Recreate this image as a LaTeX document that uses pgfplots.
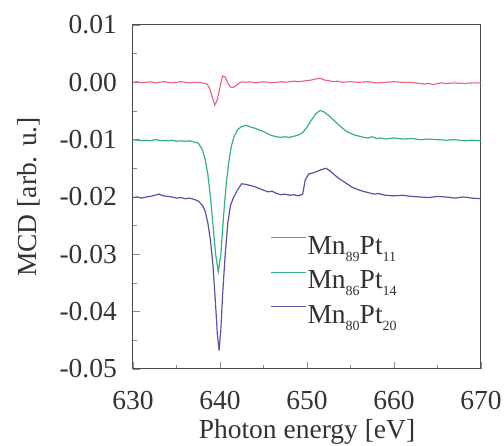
\documentclass[border=0pt]{standalone}
\usepackage{fontspec}
\setmainfont{Liberation Serif}
\usepackage{pgfplots}
\pgfplotsset{compat=1.18}

\definecolor{mcdred}{RGB}{232,96,122}
\definecolor{mcdgreen}{RGB}{50,178,130}
\definecolor{mcdblue}{RGB}{88,82,166}
\newcommand{\bigfont}{\fontsize{27.5}{32}\selectfont}
\newcommand{\sub}[1]{\raisebox{-7pt}{\fontsize{14}{14}\selectfont #1}}

\begin{document}
\begin{tikzpicture}
\begin{axis}[
    name=ax,
    scale only axis,
    width=348pt, height=344pt,
    xmin=630, xmax=670,
    ymin=-0.05, ymax=0.01,
    scaled y ticks=false,
    xtick={630,640,...,670},
    xticklabels={630,640,650,660,670},
    ytick={-0.05,-0.04,-0.03,-0.02,-0.01,0,0.01},
    yticklabels={-0.05,-0.04,-0.03,-0.02,-0.01,0.00,0.01},
    minor x tick num=1,
    minor y tick num=1,
    xtick pos=bottom, ytick pos=left,
    tick align=inside,
    major tick length=7pt, minor tick length=4pt,
    tick style={black!45, line width=0.6pt},
    axis line style={black!70, line width=1pt},
    tick label style={font=\bigfont, text=black!80, inner sep=1pt},
    yticklabel style={xshift=-15pt},
    xticklabel style={yshift=-21pt},
    label style={font=\bigfont, text=black!80, inner sep=0pt},
    xlabel={Photon energy [eV]},
    ylabel={MCD [arb. u.]},
    xlabel style={at={(axis description cs:0.5,-0.203)}, anchor=base},
    ylabel style={at={(axis description cs:-0.276,0.5)}, anchor=base},
    legend style={draw=none, fill=none, at={(0.394,0.39)}, anchor=north west,
        inner sep=0pt, font=\bigfont, text=black!80, row sep=13pt,
        nodes={inner sep=1pt}},
    legend cell align=left,
    legend image code/.code={\draw[#1] (0pt,8pt) -- (35pt,8pt);},
]

% Mn89Pt11
\addplot[color=mcdred, line width=1.1pt] coordinates {
(630,0.0000) (630.5,0.0001) (631,-0.0001) (631.5,0.0000) (632,0.0001)
(632.5,-0.0001) (633,0.0000) (633.5,0.0001) (634,0.0000) (634.5,-0.0001)
(635,0.0000) (635.5,0.0001) (636,0.0000) (636.5,-0.0001) (637,0.0000)
(637.5,0.0000) (638,-0.0001) (638.5,-0.0003) (638.8,-0.0010) (639.1,-0.0025)
(639.4,-0.0040) (639.7,-0.0030) (640.0,-0.0008) (640.3,0.0011) (640.6,0.0009)
(640.9,-0.0002) (641.2,-0.0008) (641.5,-0.0009) (641.8,-0.0006) (642.2,-0.0001)
(642.6,0.0001) (643,0.0000) (643.5,0.0001) (644,-0.0001) (644.5,0.0000)
(645,0.0001) (645.5,0.0000) (646,-0.0001) (646.5,0.0000) (647,0.0001)
(647.5,0.0000) (648,0.0001) (648.5,0.0002) (649,0.0001) (649.5,0.0002)
(650,0.0003) (650.5,0.0004) (651,0.0006) (651.5,0.0007) (652,0.0004)
(652.5,0.0003) (653,0.0001) (653.5,0.0002) (654,0.0000) (655,0.0001)
(656,0.0000) (657,0.0001) (658,-0.0001) (659,0.0000) (660,0.0001)
(661,0.0000) (662,0.0000) (663,-0.0002) (663.5,-0.0003) (664,-0.0002)
(664.5,-0.0004) (665,-0.0002) (665.5,-0.0001) (666,-0.0002) (667,-0.0001)
(668,-0.0002) (669,-0.0001) (670,-0.0001)
};

% Mn86Pt14
\addplot[color=mcdgreen, line width=1.2pt] coordinates {
(630,-0.0100) (630.5,-0.0101) (631,-0.0102) (631.5,-0.0101) (632,-0.0102)
(632.5,-0.0100) (633,-0.0101) (633.5,-0.0102) (634,-0.0102) (634.5,-0.0101)
(635,-0.0103) (635.5,-0.0102) (636,-0.0103) (636.5,-0.0102) (637,-0.0104)
(637.5,-0.0106) (638,-0.0118) (638.3,-0.0135) (638.6,-0.0160) (638.9,-0.0200)
(639.2,-0.0250) (639.5,-0.0300) (639.8,-0.0330) (640.1,-0.0300) (640.4,-0.0235)
(640.7,-0.0180) (641.0,-0.0140) (641.3,-0.0112) (641.6,-0.0095) (642.0,-0.0083)
(642.5,-0.0077) (643,-0.0075) (643.5,-0.0078) (644,-0.0080) (644.5,-0.0083)
(645,-0.0086) (645.5,-0.0090) (646,-0.0093) (646.5,-0.0095) (647,-0.0096)
(647.5,-0.0095) (648,-0.0096) (648.5,-0.0094) (649,-0.0092) (649.5,-0.0088)
(650,-0.0078) (650.5,-0.0066) (651,-0.0055) (651.5,-0.0049) (652,-0.0052)
(652.5,-0.0058) (653,-0.0065) (653.5,-0.0072) (654,-0.0079) (654.5,-0.0085)
(655,-0.0089) (655.5,-0.0092) (656,-0.0094) (656.5,-0.0096) (657,-0.0097)
(657.5,-0.0095) (658,-0.0098) (658.5,-0.0097) (659,-0.0099) (659.5,-0.0098)
(660,-0.0097) (661,-0.0099) (662,-0.0098) (663,-0.0100) (664,-0.0099)
(665,-0.0100) (666,-0.0101) (667,-0.0100) (668,-0.0102) (669,-0.0101)
(670,-0.0102)
};

% Mn80Pt20
\addplot[color=mcdblue, line width=1.2pt] coordinates {
(630,-0.0201) (630.5,-0.0200) (631,-0.0202) (631.5,-0.0200) (632,-0.0199)
(632.5,-0.0197) (633,-0.0195) (633.5,-0.0198) (634,-0.0199) (634.5,-0.0200)
(635,-0.0202) (635.5,-0.0201) (636,-0.0203) (636.5,-0.0202) (637,-0.0204)
(637.5,-0.0207) (638,-0.0215) (638.3,-0.0225) (638.6,-0.0245) (638.9,-0.0275)
(639.2,-0.0320) (639.5,-0.0390) (639.7,-0.0440) (639.9,-0.0468) (640.1,-0.0430)
(640.3,-0.0370) (640.6,-0.0300) (640.9,-0.0245) (641.2,-0.0215) (641.5,-0.0203)
(642,-0.0188) (642.5,-0.0177) (643,-0.0178) (643.5,-0.0180) (644,-0.0182)
(644.5,-0.0185) (645,-0.0188) (645.5,-0.0191) (646,-0.0190) (646.5,-0.0194)
(647,-0.0196) (647.5,-0.0195) (648,-0.0197) (648.5,-0.0196) (649,-0.0198)
(649.5,-0.0195) (649.8,-0.0170) (650.2,-0.0160) (650.7,-0.0158) (651.2,-0.0155)
(651.7,-0.0152) (652.2,-0.0150) (652.7,-0.0155) (653.2,-0.0162) (653.7,-0.0168)
(654.2,-0.0173) (654.7,-0.0178) (655.2,-0.0183) (655.7,-0.0186) (656.2,-0.0189)
(656.7,-0.0191) (657.2,-0.0193) (657.7,-0.0195) (658.2,-0.0194) (659,-0.0197)
(660,-0.0198) (661,-0.0197) (662,-0.0199) (663,-0.0200) (664,-0.0201)
(665,-0.0199) (666,-0.0200) (667,-0.0202) (668,-0.0200) (669,-0.0202)
(670,-0.0203)
};

\legend{Mn\sub{89}Pt\sub{11}, Mn\sub{86}Pt\sub{14}, Mn\sub{80}Pt\sub{20}}
\end{axis}
\pgfresetboundingbox
\path ([shift={(-133pt,-77pt)}]ax.south west) rectangle ([shift={(23pt,25pt)}]ax.north east);
\end{tikzpicture}
\end{document}
